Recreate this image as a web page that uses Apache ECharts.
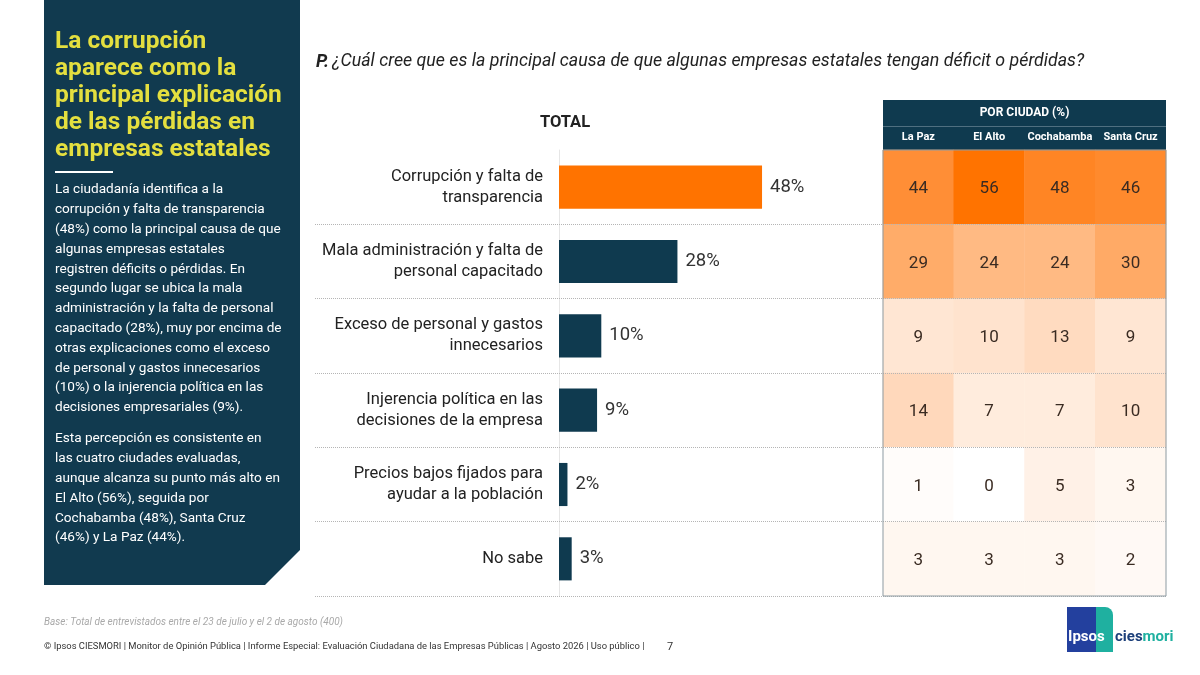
<!DOCTYPE html>
<html>
<head>
<meta charset="utf-8">
<script src="https://cdn.jsdelivr.net/npm/echarts@6/dist/echarts.min.js"></script>
<style>
html,body{margin:0;padding:0;background:#fff;}
#c{width:1200px;height:675px;}
</style>
</head>
<body>
<div id="c"></div>
<script>
// ---- Data ----
const categories = [
  'Corrupción y falta de\ntransparencia',
  'Mala administración y falta de\npersonal capacitado',
  'Exceso de personal y gastos\ninnecesarios',
  'Injerencia política en las\ndecisiones de la empresa',
  'Precios bajos fijados para\nayudar a la población',
  'No sabe'
];
const totals = [48, 28, 10, 9, 2, 3];
const cities = ['La Paz', 'El Alto', 'Cochabamba', 'Santa Cruz'];
const laPaz = [44, 29, 9, 14, 1, 3];
const elAlto = [56, 24, 10, 7, 0, 3];
const cochabamba = [48, 24, 13, 7, 5, 3];
const santaCruz = [46, 30, 9, 10, 3, 2];
const cityValues = [laPaz, elAlto, cochabamba, santaCruz];

// ---- Layout constants ----
const F = 'Roboto, "Noto Sans", sans-serif';
const NAVY = '#0f3a4f';
const ORANGE = '#ff7300';
const plotTop = 150, plotH = 446;
const barLeft = 559;
const tblLeft = 883, tblW = 283, hdrTop = 100;

const heatData = [];
cityValues.forEach((arr, ci) => arr.forEach((v, ri) => heatData.push([ci, ri, v])));

const para1 = [
  'La ciudadanía identifica a la',
  'corrupción y falta de transparencia',
  '(48%) como la principal causa de que',
  'algunas empresas estatales',
  'registren déficits o pérdidas. En',
  'segundo lugar se ubica la mala',
  'administración y la falta de personal',
  'capacitado (28%), muy por encima de',
  'otras explicaciones como el exceso',
  'de personal y gastos innecesarios',
  '(10%) o la injerencia política en las',
  'decisiones empresariales (9%).'
].join('\n');
const para2 = [
  'Esta percepción es consistente en',
  'las cuatro ciudades evaluadas,',
  'aunque alcanza su punto más alto en',
  'El Alto (56%), seguida por',
  'Cochabamba (48%), Santa Cruz',
  '(46%) y La Paz (44%).'
].join('\n');

const chart = echarts.init(document.getElementById('c'), null, {renderer: 'canvas'});
chart.setOption({
  animation: false,
  backgroundColor: '#ffffff',
  textStyle: {fontFamily: F},
  grid: [
    {left: barLeft, top: plotTop, width: 423, height: plotH},
    {left: tblLeft, top: plotTop, width: tblW, height: plotH, show: true, z: 10,
     backgroundColor: 'transparent', borderColor: '#8d9ba3', borderWidth: 1},
    {left: 315, top: plotTop, width: tblLeft + tblW - 315, height: plotH}
  ],
  xAxis: [
    {gridIndex: 0, type: 'value', min: 0, max: 100, show: false},
    {gridIndex: 1, type: 'category', data: cities, position: 'top', z: 10,
     axisLine: {show: false}, axisTick: {show: false}, splitLine: {show: false},
     axisLabel: {interval: 0, color: '#ffffff', fontWeight: 'bold', fontSize: 11, margin: 7, fontFamily: F}},
    {gridIndex: 2, type: 'value', min: 0, max: 1, show: false}
  ],
  yAxis: [
    {gridIndex: 0, type: 'category', data: categories, inverse: true,
     axisLine: {show: true, lineStyle: {color: '#e6e6e6', width: 1}},
     axisTick: {show: false}, splitLine: {show: false},
     axisLabel: {interval: 0, fontSize: 16.5, color: '#222', lineHeight: 21, margin: 16, align: 'right', fontFamily: F}},
    {gridIndex: 1, type: 'category', data: categories, inverse: true, show: false},
    {gridIndex: 2, type: 'value', min: 0, max: 6, interval: 1, inverse: true, z: 6,
     axisLine: {show: false}, axisTick: {show: false}, axisLabel: {show: false},
     splitLine: {show: true, showMinLine: false, lineStyle: {type: 'dotted', color: '#b5b5b5', width: 1}}}
  ],
  visualMap: {
    type: 'continuous', show: false, min: 0, max: 56, seriesIndex: 1, dimension: 2,
    inRange: {color: ['#ffffff', '#ffd8bb', '#ffae6c', '#ff933f', '#ff7300']}
  },
  series: [
    {
      type: 'bar', xAxisIndex: 0, yAxisIndex: 0, barWidth: '58%',
      data: totals.map((v, i) => ({value: v, itemStyle: {color: i === 0 ? ORANGE : NAVY}})),
      label: {show: true, position: 'right', distance: 8, formatter: '{c}%', fontSize: 18.5,
              color: '#333', fontFamily: F}
    },
    {
      type: 'heatmap', xAxisIndex: 1, yAxisIndex: 1, data: heatData,
      label: {show: true, fontSize: 17, color: '#3a2b22', fontFamily: F, offset: [0, 2],
              formatter: p => String(p.value[2])},
      itemStyle: {borderWidth: 0}
    }
  ],
  graphic: [
    // left panel
    {type: 'polygon', z: 0, shape: {points: [[44, 0], [300, 0], [300, 550], [265, 585], [44, 585]]},
     style: {fill: '#113a4f'}},
    {type: 'text', z: 2, style: {x: 55, y: 28, text: 'La corrupción\naparece como la\nprincipal explicación\nde las pérdidas en\nempresas estatales',
      fill: '#e4df3f', font: 'bold 24.5px ' + F, lineHeight: 27, verticalAlign: 'top'}},
    {type: 'rect', z: 2, shape: {x: 55, y: 171, width: 58, height: 2}, style: {fill: '#ffffff'}},
    {type: 'text', z: 2, style: {x: 55, y: 180, text: para1, fill: '#ffffff', font: '13.6px ' + F,
      lineHeight: 19.8, verticalAlign: 'top'}},
    {type: 'text', z: 2, style: {x: 55, y: 429, text: para2, fill: '#ffffff', font: '13.6px ' + F,
      lineHeight: 19.8, verticalAlign: 'top'}},
    // question
    {type: 'text', z: 2, style: {x: 316, y: 62, verticalAlign: 'middle',
      text: '{b|P.} {i|¿Cuál cree que es la principal causa de que algunas empresas estatales tengan déficit o pérdidas?}',
      rich: {b: {font: 'italic bold 18px ' + F, fill: '#222'}, i: {font: 'italic 17.8px ' + F, fill: '#222'}}}},
    {type: 'text', z: 2, style: {x: 565, y: 123, text: 'TOTAL', align: 'center', verticalAlign: 'middle',
      font: 'bold 16.5px ' + F, fill: '#222'}},
    // table header
    {type: 'rect', z: 1, shape: {x: tblLeft, y: hdrTop, width: tblW, height: plotTop - hdrTop}, style: {fill: NAVY}},
    {type: 'rect', z: 1, shape: {x: tblLeft, y: 126, width: tblW, height: 1}, style: {fill: '#4f6f80'}},
    {type: 'text', z: 2, style: {x: tblLeft + tblW / 2, y: 113, text: 'POR CIUDAD (%)', align: 'center',
      verticalAlign: 'middle', font: 'bold 12px ' + F, fill: '#ffffff'}},
    // footer
    {type: 'text', z: 2, style: {x: 44, y: 622, verticalAlign: 'middle',
      text: 'Base: Total de entrevistados entre el 23 de julio y el 2 de agosto (400)',
      font: 'italic 10px ' + F, fill: '#a9a9a9'}},
    {type: 'text', z: 2, style: {x: 44, y: 647, verticalAlign: 'middle',
      text: '© Ipsos CIESMORI | Monitor de Opinión Pública | Informe Especial: Evaluación Ciudadana de las Empresas Públicas | Agosto 2026 | Uso público |',
      font: '9.4px ' + F, fill: '#333'}},
    {type: 'text', z: 2, style: {x: 667, y: 647, verticalAlign: 'middle', text: '7', font: '11px ' + F, fill: '#333'}},
    // logo
    {type: 'rect', z: 1, shape: {x: 1067, y: 607, width: 32, height: 45}, style: {fill: '#23409e'}},
    {type: 'rect', z: 1, shape: {x: 1096, y: 607, width: 17, height: 45, r: [0, 8, 0, 0]}, style: {fill: '#1fb0a0'}},
    {type: 'text', z: 2, style: {x: 1068, y: 637, verticalAlign: 'middle', text: 'Ipsos',
      font: 'bold 15px ' + F, fill: '#ffffff'}},
    {type: 'text', z: 2, style: {x: 1115, y: 637, verticalAlign: 'middle',
      text: '{a|cies}{b|mori}', rich: {a: {font: 'bold 15px ' + F, fill: '#1c3f7a'}, b: {font: 'bold 15px ' + F, fill: '#1fb0a0'}}}}
  ]
});
</script>
</body>
</html>
